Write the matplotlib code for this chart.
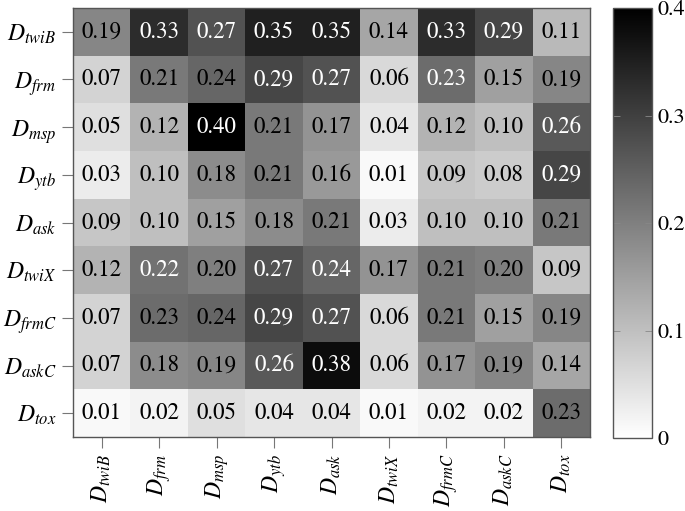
import matplotlib
matplotlib.use("Agg")
import matplotlib.pyplot as plt
import numpy as np

labels = ["twiB", "frm", "msp", "ytb", "ask", "twiX", "frmC", "askC", "tox"]
values = [
    [0.19, 0.33, 0.27, 0.35, 0.35, 0.14, 0.33, 0.29, 0.11],
    [0.07, 0.21, 0.24, 0.29, 0.27, 0.06, 0.23, 0.15, 0.19],
    [0.05, 0.12, 0.40, 0.21, 0.17, 0.04, 0.12, 0.10, 0.26],
    [0.03, 0.10, 0.18, 0.21, 0.16, 0.01, 0.09, 0.08, 0.29],
    [0.09, 0.10, 0.15, 0.18, 0.21, 0.03, 0.10, 0.10, 0.21],
    [0.12, 0.22, 0.20, 0.27, 0.24, 0.17, 0.21, 0.20, 0.09],
    [0.07, 0.23, 0.24, 0.29, 0.27, 0.06, 0.21, 0.15, 0.19],
    [0.07, 0.18, 0.19, 0.26, 0.38, 0.06, 0.17, 0.19, 0.14],
    [0.01, 0.02, 0.05, 0.04, 0.04, 0.01, 0.02, 0.02, 0.23],
]
cbar_ticks = [0, 0.1, 0.2, 0.3, 0.4]
cbar_ticklabels = ["0", "0.1", "0.2", "0.3", "0.4"]

# text colour flags (1 = white text)
white_text = [
    [0, 1, 1, 1, 1, 0, 1, 1, 0],
    [0, 0, 0, 1, 1, 0, 1, 0, 0],
    [0, 0, 1, 0, 0, 0, 0, 0, 1],
    [0, 0, 0, 0, 0, 0, 0, 0, 1],
    [0, 0, 0, 0, 0, 0, 0, 0, 0],
    [0, 1, 0, 1, 1, 0, 0, 0, 0],
    [0, 0, 0, 1, 1, 0, 0, 0, 0],
    [0, 0, 0, 1, 1, 0, 0, 0, 0],
    [0, 0, 0, 0, 0, 0, 0, 0, 0],
]

plt.rcParams["mathtext.fontset"] = "stix"
plt.rcParams["font.family"] = ["STIXGeneral", "Liberation Serif", "DejaVu Serif"]

W, H = 685, 511
fig = plt.figure(figsize=(W / 100, H / 100), dpi=100)
ax = fig.add_axes([73 / W, 1 - 437 / H, (590 - 73) / W, (437 - 8) / H])
cax = fig.add_axes([613 / W, 1 - 438 / H, (652 - 613) / W, (438 - 8) / H])

data = np.array(values)
im = ax.imshow(data, cmap="gray_r", vmin=0, vmax=0.4, aspect="auto",
               interpolation="nearest")

n = len(labels)
for i in range(n):
    for j in range(n):
        ax.text(j, i, f"{values[i][j]:.2f}", ha="center", va="center",
                fontsize=16.5, color="white" if white_text[i][j] else "black")

tick_names = [r"$D_{%s}$" % l for l in labels]
ax.set_xticks(range(n))
ax.set_yticks(range(n))
ax.set_xticklabels(tick_names, rotation=90, fontsize=17)
ax.set_yticklabels(tick_names, fontsize=17)
ax.tick_params(axis="both", length=8, width=0.8, color="#777777", pad=4)
for s in ax.spines.values():
    s.set_color("#555555")
    s.set_linewidth(1.0)

cb = fig.colorbar(im, cax=cax, ticks=cbar_ticks)
cb.ax.set_yticklabels(cbar_ticklabels, fontsize=16)
cb.ax.tick_params(direction="in", length=5, width=0.6, color="#888888",
                  left=True, right=True, pad=4)
cb.outline.set_edgecolor("#555555")
cb.outline.set_linewidth(1.0)

fig.savefig("out.png", dpi=100)
